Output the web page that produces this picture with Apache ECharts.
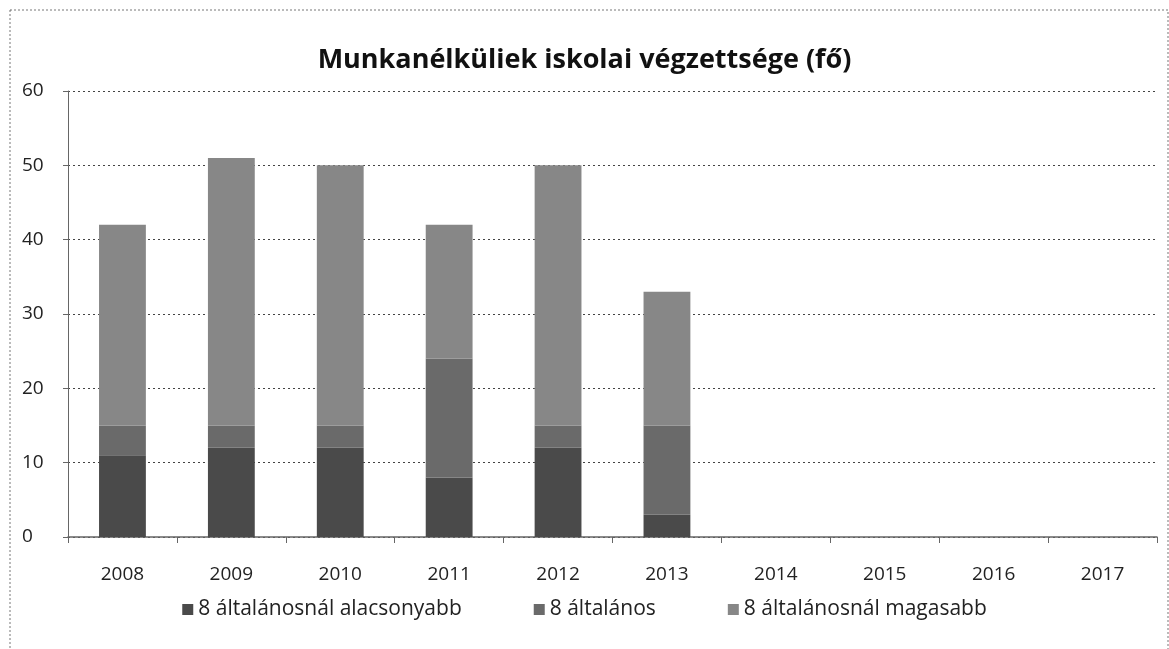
<!DOCTYPE html>
<html>
<head>
<meta charset="utf-8">
<script src="https://cdn.jsdelivr.net/npm/echarts@6/dist/echarts.min.js"></script>
<style>
  html, body { margin: 0; padding: 0; background: #fff; }
  #main { width: 1169px; height: 649px; }
</style>
</head>
<body>
<div id="main"></div>
<script>
// évek
const years = ["2008", "2009", "2010", "2011", "2012", "2013", "2014", "2015", "2016", "2017"];
// sorozatok (fő)
const lowerThan8 = [11, 12, 12, 8, 12, 3, null, null, null, null];
const primary8 = [4, 3, 3, 16, 3, 12, null, null, null, null];
const higherThan8 = [27, 36, 35, 18, 35, 18, null, null, null, null];
const seriesNames = ["8 általánosnál alacsonyabb", "8 általános", "8 általánosnál magasabb"];
const yTicks = [0, 10, 20, 30, 40, 50, 60];

const colors = ["#4a4a4a", "#6a6a6a", "#878787"];
const font = "'Open Sans', 'DejaVu Sans', sans-serif";

var myChart = echarts.init(document.getElementById("main"));

const makeSeries = (name, data, idx) => ({
  name: name,
  type: "bar",
  stack: "total",
  barWidth: "43%",
  data: data,
  itemStyle: { color: colors[idx] },
  emphasis: { disabled: true },
});

var option = {
  animation: false,
  color: colors,
  textStyle: { fontFamily: font },
  graphic: [
    {
      type: "rect",
      shape: { x: 10, y: 10, width: 1158, height: 645 },
      style: { fill: "none", stroke: "#777", lineWidth: 1, lineDash: [2, 2] },
      silent: true,
    },
  ],
  title: {
    text: "Munkanélküliek iskolai végzettsége (fő)",
    left: "center",
    top: 42,
    textStyle: { fontFamily: font, fontSize: 27, fontWeight: "bold", color: "#111" },
  },
  legend: {
    top: 594,
    left: "center",
    icon: "rect",
    itemWidth: 11,
    itemHeight: 11,
    itemGap: 72,
    textStyle: { fontFamily: font, fontSize: 21, color: "#222" },
    data: seriesNames,
  },
  grid: { left: 68, right: 12, top: 91, bottom: 112 },
  xAxis: {
    type: "category",
    data: years,
    axisLine: { lineStyle: { color: "#666", width: 1.5 } },
    axisTick: { show: true, length: 6, lineStyle: { color: "#666" } },
    axisLabel: { fontFamily: font, fontSize: 19, color: "#222", margin: 28 },
  },
  yAxis: {
    type: "value",
    min: yTicks[0],
    max: yTicks[yTicks.length - 1],
    interval: 10,
    axisLine: { show: true, lineStyle: { color: "#666", width: 1 } },
    axisTick: { show: true, length: 5, lineStyle: { color: "#666" } },
    axisLabel: { fontFamily: font, fontSize: 19, color: "#222", margin: 46, align: "left" },
    splitLine: { lineStyle: { color: "#444", type: [2, 3], width: 1 } },
  },
  series: [
    makeSeries(seriesNames[0], lowerThan8, 0),
    makeSeries(seriesNames[1], primary8, 1),
    makeSeries(seriesNames[2], higherThan8, 2),
  ],
};

myChart.setOption(option);
</script>
</body>
</html>
